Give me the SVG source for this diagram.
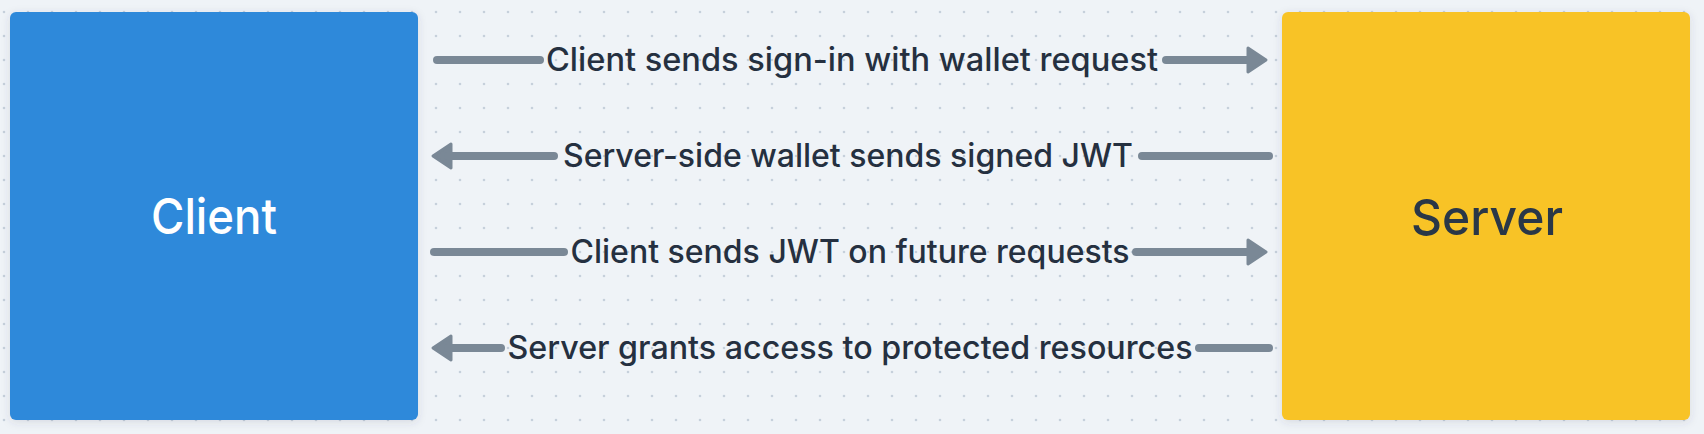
<svg xmlns="http://www.w3.org/2000/svg" width="1704" height="434" viewBox="0 0 1704 434">
  <defs>
    <pattern id="dots" x="0" y="0" width="24" height="24" patternUnits="userSpaceOnUse">
      <circle cx="4" cy="12" r="1.3" fill="#c6d0db"/>
    </pattern>
    <filter id="shadow" x="-10%" y="-10%" width="120%" height="120%">
      <feDropShadow dx="0" dy="2" stdDeviation="4" flood-color="#3a4a5c" flood-opacity="0.14"/>
    </filter>
    <style>
      .edge { stroke: #7a8896; stroke-width: 8; stroke-linecap: round; fill: none; }
      .head { fill: #7a8896; stroke: #7a8896; stroke-width: 3; stroke-linejoin: round; }
      .elabel { font-family: Inter, "Liberation Sans", Arial, sans-serif; font-weight: 500; font-size: 32px; fill: #253040; text-anchor: middle; }
      .nlabel { font-family: Inter, "Liberation Sans", Arial, sans-serif; font-weight: 500; font-size: 50px; text-anchor: middle; }
    </style>
  </defs>
  <rect x="0" y="0" width="1704" height="434" fill="#eff3f7"/>
  <rect x="0" y="0" width="1704" height="434" fill="url(#dots)"/>

  <g id="client">
    <rect x="10" y="12" width="408" height="408" rx="6" fill="#2d89da" filter="url(#shadow)"/>
    <text class="nlabel" x="214" y="234" fill="#ffffff" textLength="126" lengthAdjust="spacingAndGlyphs">Client</text>
  </g>

  <g id="server">
    <rect x="1282" y="12" width="408" height="408" rx="6" fill="#f8c326" filter="url(#shadow)"/>
    <text class="nlabel" x="1487" y="235" fill="#2a3747" textLength="152" lengthAdjust="spacingAndGlyphs">Server</text>
  </g>

  <g id="connectors">
    <g id="edge1">
      <line class="edge" x1="437" y1="60" x2="540" y2="60"/>
      <line class="edge" x1="1166" y1="60" x2="1252" y2="60"/>
      <polygon class="head" points="1248,48 1266,60 1248,72"/>
      <text class="elabel" x="852" y="71" textLength="612" lengthAdjust="spacingAndGlyphs">Client sends sign-in with wallet request</text>
    </g>
    <g id="edge2">
      <polygon class="head" points="451,144 433,156 451,168"/>
      <line class="edge" x1="448" y1="156" x2="554" y2="156"/>
      <line class="edge" x1="1142" y1="156" x2="1269" y2="156"/>
      <text class="elabel" x="848" y="167" textLength="570" lengthAdjust="spacingAndGlyphs">Server-side wallet sends signed JWT</text>
    </g>
    <g id="edge3">
      <line class="edge" x1="434" y1="252" x2="564" y2="252"/>
      <line class="edge" x1="1136" y1="252" x2="1252" y2="252"/>
      <polygon class="head" points="1248,240 1266,252 1248,264"/>
      <text class="elabel" x="850" y="263" textLength="559" lengthAdjust="spacingAndGlyphs">Client sends JWT on future requests</text>
    </g>
    <g id="edge4">
      <polygon class="head" points="451,336 433,348 451,360"/>
      <line class="edge" x1="448" y1="348" x2="501" y2="348"/>
      <line class="edge" x1="1199" y1="348" x2="1269" y2="348"/>
      <text class="elabel" x="850" y="359" textLength="685" lengthAdjust="spacingAndGlyphs">Server grants access to protected resources</text>
    </g>
  </g>
</svg>
